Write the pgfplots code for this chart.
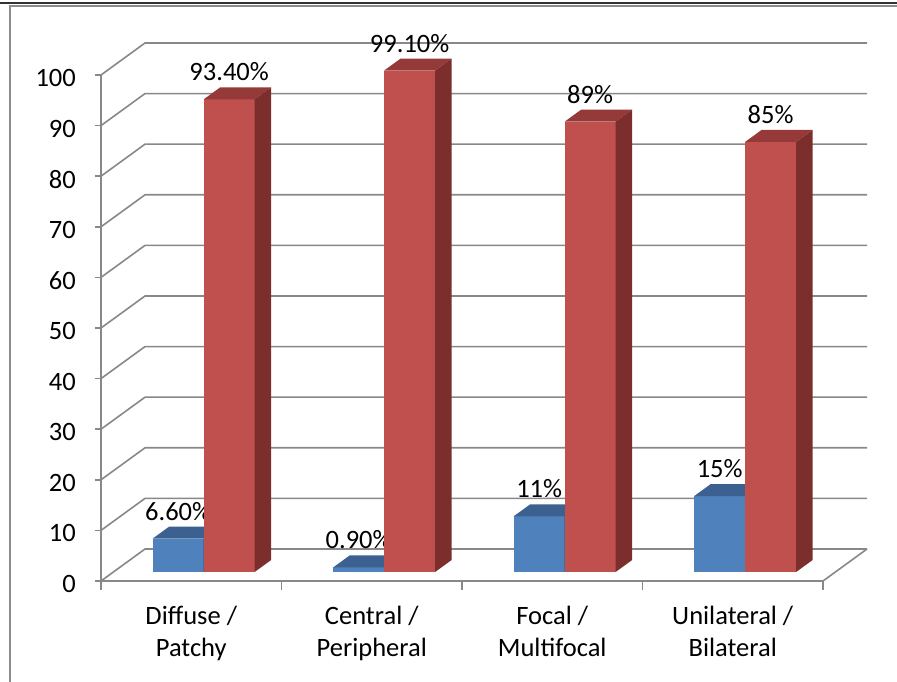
\documentclass[border=0pt]{standalone}
\usepackage{pgfplots}
\pgfplotsset{compat=1.18}
\usepackage{fontspec}
\setmainfont{Carlito}

\definecolor{gridgray}{HTML}{888888}
\definecolor{framegray}{HTML}{8C8C8C}
\definecolor{bluefront}{HTML}{4F81BD}
\definecolor{bluetop}{HTML}{3C6191}
\definecolor{blueside}{HTML}{2F4B70}
\definecolor{redfront}{HTML}{C0504D}
\definecolor{redtop}{HTML}{953A38}
\definecolor{redside}{HTML}{7B2E2C}

\tikzset{gridline/.style={gridgray, line width=1.6pt}}

\newcommand\chartfont{\fontsize{26.5}{32}\selectfont}

% oblique depth geometry, in data units (x: categories, y: percent)
\def\sx{0.0687}   % shift of the column front from the front plane
\def\sy{1.779}
\def\bw{0.2825}   % column width
\def\bx{0.0914}   % column depth
\def\by{2.372}

% #1 category index, #2 0 = first series / 1 = second, #3 value,
% #4 colour prefix, #5 value label
\newcommand\column[5]{%
  \pgfmathsetmacro\xa{#1+0.5+\sx+(#2-1)*\bw}%
  \pgfmathsetmacro\xb{\xa+\bw}%
  \pgfmathsetmacro\xc{\xa+\bx}%
  \pgfmathsetmacro\xd{\xb+\bx}%
  \pgfmathsetmacro\ya{\sy}%
  \pgfmathsetmacro\yb{\sy+#3}%
  \pgfmathsetmacro\yc{\yb+\by}%
  \pgfmathsetmacro\yd{\ya+\by}%
  \pgfmathsetmacro\xm{\xa+0.5*\bw}%
  \pgfmathsetmacro\yl{\yb+3.66}%
  \addplot[fill=#4front, draw=none] coordinates {(\xa,\ya) (\xb,\ya) (\xb,\yb) (\xa,\yb)} -- cycle;
  \addplot[fill=#4top, draw=none] coordinates {(\xa,\yb) (\xb,\yb) (\xd,\yc) (\xc,\yc)} -- cycle;
  \addplot[fill=#4side, draw=none] coordinates {(\xb,\ya) (\xd,\yd) (\xd,\yc) (\xb,\yb)} -- cycle;
  \edef\temp{\noexpand\node[anchor=base, inner sep=0pt, font=\noexpand\chartfont] at (axis cs:\xm,\yl) {#5};}\temp
}

\begin{document}
\begin{tikzpicture}[x=1pt,y=1pt]
\useasboundingbox (0,0) rectangle (897,682);
\begin{axis}[
  at={(101pt,101pt)}, anchor=south west,
  scale only axis, width=722pt, height=506pt,
  xmin=0, xmax=4, ymin=0, ymax=100,
  clip=false,
  axis line style={draw=none},
  xtick={0.5,1.5,2.5,3.5},
  xticklabels={{Diffuse /\\Patchy},{Central /\\Peripheral},{Focal /\\Multifocal},{Unilateral /\\Bilateral}},
  minor xtick={0,1,2,3,4},
  ytick={0,10,20,30,40,50,60,70,80,90,100},
  tick align=outside,
  xtick pos=bottom, ytick pos=left,
  major tick length=6pt, minor tick length=9pt,
  tick style={gridgray, line width=1.6pt},
  major x tick style={draw=none},
  tick label style={font=\chartfont, text=black},
  /pgf/number format/assume math mode=true,
  xticklabel style={align=center, anchor=north, inner sep=0pt, yshift=-19pt},
  yticklabel style={anchor=east, inner sep=0pt, xshift=-19pt, yshift=-3pt},
]
  % back wall and side wall grid
  \pgfplotsinvokeforeach{0,10,20,30,40,50,60,70,80,90,100}{
    \draw[gridline] (axis cs:0,#1) -- ([shift={(44pt,32pt)}]axis cs:0,#1)
      -- ([shift={(44pt,32pt)}]axis cs:4,#1);
  }
  % floor edges and vertical axis
  \draw[gridline] (axis cs:0,0) -- (axis cs:4,0) -- ([shift={(44pt,32pt)}]axis cs:4,0);
  \draw[gridline] (axis cs:0,0) -- (axis cs:0,100);

  \column{0}{0}{6.6}{blue}{6.60\%}
  \column{0}{1}{93.4}{red}{93.40\%}
  \column{1}{0}{0.9}{blue}{0.90\%}
  \column{1}{1}{99.1}{red}{99.10\%}
  \column{2}{0}{11}{blue}{11\%}
  \column{2}{1}{89}{red}{89\%}
  \column{3}{0}{15}{blue}{15\%}
  \column{3}{1}{85}{red}{85\%}
\end{axis}
% chart area frame
\draw[black!80, line width=1.3pt] (0,679) -- (897,679);
\draw[framegray, line width=1.6pt] (897,676) -- (10,676) -- (10,0);
\end{tikzpicture}
\end{document}
